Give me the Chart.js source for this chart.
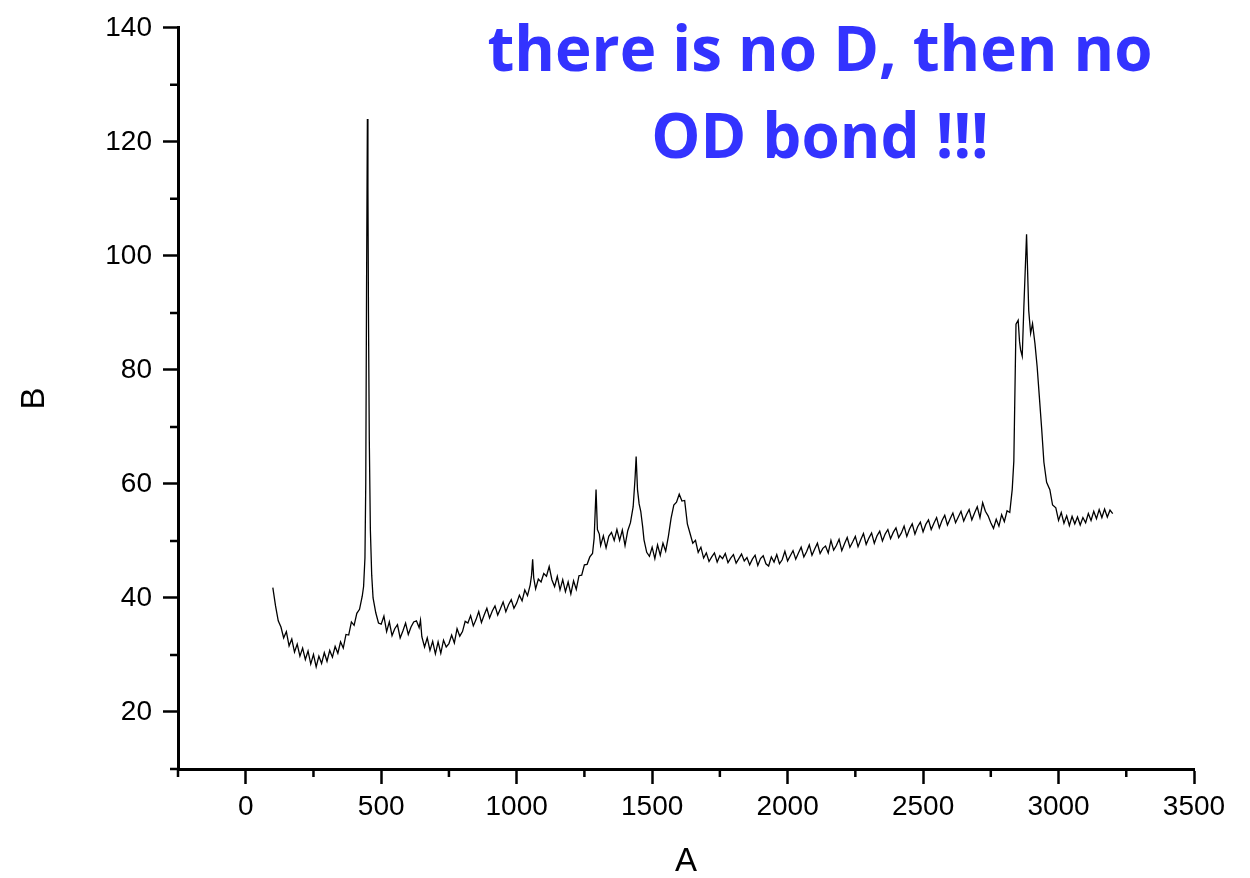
<!DOCTYPE html>
<html>
<head>
<meta charset="utf-8">
<title>Spectrum</title>
<script src="https://cdn.jsdelivr.net/npm/chart.js@4.4.1/dist/chart.umd.min.js"></script>
<style>
    html, body { margin: 0; padding: 0; background: #fff; }
    #chart { display: block; }
</style>
</head>
<body>
<canvas id="chart" width="1250" height="878"></canvas>
<script>
// ========== DATA ==========
const ramanShift = [
    100, 110, 120, 130, 140, 150, 160, 170, 180, 190,
    200, 210, 220, 230, 240, 250, 260, 270, 280, 290,
    300, 310, 320, 330, 340, 350, 360, 370, 380, 390,
    400, 410, 420, 430, 435, 440, 443, 446, 449, 451,
    453, 456, 460, 465, 470, 480, 490, 500, 510, 520,
    530, 540, 550, 560, 570, 580, 590, 600, 610, 620,
    630, 640, 645, 650, 660, 670, 680, 690, 700, 710,
    720, 730, 740, 750, 760, 770, 780, 790, 800, 810,
    820, 830, 840, 850, 860, 870, 880, 890, 900, 910,
    920, 930, 940, 950, 960, 970, 980, 990, 1000, 1010,
    1020, 1030, 1040, 1050, 1055, 1059, 1063, 1070, 1080, 1090,
    1100, 1110, 1120, 1130, 1140, 1150, 1160, 1170, 1180, 1190,
    1200, 1210, 1220, 1230, 1240, 1250, 1260, 1270, 1280, 1286,
    1293, 1298, 1305, 1310, 1320, 1330, 1340, 1350, 1360, 1370,
    1380, 1390, 1400, 1410, 1420, 1430, 1437, 1441, 1446, 1452,
    1458, 1465, 1470, 1480, 1490, 1500, 1510, 1520, 1530, 1540,
    1550, 1560, 1570, 1580, 1590, 1600, 1610, 1620, 1630, 1640,
    1650, 1660, 1670, 1680, 1690, 1700, 1710, 1720, 1730, 1740,
    1750, 1760, 1770, 1780, 1790, 1800, 1810, 1820, 1830, 1840,
    1850, 1860, 1870, 1880, 1890, 1900, 1910, 1920, 1930, 1940,
    1950, 1960, 1970, 1980, 1990, 2000, 2010, 2020, 2030, 2040,
    2050, 2060, 2070, 2080, 2090, 2100, 2110, 2120, 2130, 2140,
    2150, 2160, 2170, 2180, 2190, 2200, 2210, 2220, 2230, 2240,
    2250, 2260, 2270, 2280, 2290, 2300, 2310, 2320, 2330, 2340,
    2350, 2360, 2370, 2380, 2390, 2400, 2410, 2420, 2430, 2440,
    2450, 2460, 2470, 2480, 2490, 2500, 2510, 2520, 2530, 2540,
    2550, 2560, 2570, 2580, 2590, 2600, 2610, 2620, 2630, 2640,
    2650, 2660, 2670, 2680, 2690, 2700, 2710, 2720, 2730, 2740,
    2750, 2760, 2770, 2780, 2790, 2800, 2810, 2820, 2829, 2835,
    2843, 2851, 2856, 2860, 2866, 2872, 2882, 2890, 2897, 2904,
    2913, 2921, 2929, 2938, 2946, 2956, 2968, 2978, 2990, 3000,
    3010, 3020, 3030, 3040, 3050, 3060, 3070, 3080, 3090, 3100,
    3110, 3120, 3130, 3140, 3150, 3160, 3170, 3180, 3190, 3200
];

const intensity = [
    41.8, 38.6, 36.0, 34.9, 33.0, 34.1, 31.6, 32.8, 30.5, 31.9,
    29.8, 31.2, 29.2, 30.7, 28.4, 30.1, 27.9, 29.8, 28.5, 30.4,
    28.9, 30.8, 29.6, 31.5, 30.3, 32.3, 31.2, 33.6, 33.5, 35.8,
    35.2, 37.3, 38.0, 40.3, 42.0, 47.0, 60.0, 95.0, 124.0, 112.0,
    90.0, 68.0, 52.0, 44.0, 40.0, 37.4, 35.6, 35.4, 36.8, 34.1,
    35.8, 33.4, 34.6, 35.3, 33.0, 34.2, 35.6, 33.6, 34.9, 35.8,
    36.0, 34.8, 36.1, 33.2, 31.4, 33.0, 30.8, 32.4, 30.2, 32.3,
    30.3, 32.6, 31.4, 32.0, 33.5, 32.1, 34.6, 33.3, 34.1, 35.9,
    35.6, 36.9, 35.1, 36.2, 37.6, 35.7, 37.0, 38.2, 36.5, 37.7,
    38.6, 37.0, 38.1, 39.3, 37.6, 38.8, 39.7, 38.2, 39.1, 40.5,
    39.5, 41.4, 40.4, 42.3, 44.0, 46.8, 43.5, 41.6, 43.3, 42.8,
    44.3, 43.8, 45.5, 43.2, 42.0, 43.8, 41.4, 43.2, 41.1, 42.8,
    40.7, 43.0, 41.5, 43.9, 44.0, 45.8, 45.9, 47.2, 47.8, 50.5,
    59.0, 52.0, 51.2, 49.2, 50.9, 48.8, 50.8, 51.5, 50.1, 52.0,
    50.1, 51.9, 49.2, 51.8, 53.2, 56.0, 61.0, 64.8, 59.0, 56.5,
    55.2, 52.5, 50.2, 48.0, 47.3, 48.9, 46.9, 49.3, 47.5, 49.6,
    48.2, 50.8, 54.0, 56.3, 56.8, 58.2, 57.0, 57.1, 53.0, 51.3,
    49.6, 50.1, 48.0, 48.9, 47.0, 47.9, 46.4, 47.2, 47.9, 46.3,
    47.4, 46.9, 47.8, 46.2, 47.0, 47.6, 46.1, 46.9, 47.7, 46.5,
    47.1, 45.8, 46.8, 47.5, 45.7, 46.9, 47.4, 46.0, 45.6, 47.2,
    46.3, 47.6, 46.0, 46.7, 48.2, 46.5, 47.4, 48.3, 46.8, 47.9,
    48.9, 47.2, 48.1, 49.3, 47.5, 48.6, 49.6, 47.8, 48.7, 49.1,
    47.9, 50.1, 48.4, 49.2, 50.3, 48.3, 49.5, 50.6, 48.9, 49.8,
    50.8, 49.0, 50.2, 51.3, 49.4, 50.5, 51.4, 49.6, 50.9, 51.7,
    50.0, 51.2, 52.0, 50.4, 51.5, 52.3, 50.6, 51.4, 52.6, 50.8,
    52.1, 53.0, 51.2, 52.5, 53.3, 51.6, 52.9, 53.7, 52.0, 53.1,
    54.1, 52.3, 53.6, 54.5, 52.8, 53.9, 54.9, 53.2, 54.2, 55.2,
    53.5, 54.6, 55.5, 53.7, 54.9, 56.0, 54.1, 56.7, 55.2, 54.4,
    53.2, 52.2, 53.8, 52.6, 54.6, 53.4, 55.3, 55.0, 59.0, 64.0,
    88.0, 88.7, 85.0, 83.5, 82.4, 91.0, 103.8, 90.4, 86.4, 88.1,
    84.6, 80.6, 75.4, 69.5, 63.8, 60.3, 59.0, 56.3, 55.8, 53.6,
    55.0, 53.1, 54.4, 52.7, 54.3, 53.0, 54.2, 52.8, 54.1, 53.2,
    54.8, 53.6, 55.2, 53.9, 55.5, 54.1, 55.6, 54.2, 55.4, 54.8
];

// axis ticks
const xMajorTicks = [0, 500, 1000, 1500, 2000, 2500, 3000, 3500];
const xMinorTicks = [-250, 250, 750, 1250, 1750, 2250, 2750, 3250];
const yMajorTicks = [20, 40, 60, 80, 100, 120, 140];
const yMinorTicks = [10, 30, 50, 70, 90, 110, 130];

const noteLines = ['there is no D, then no', 'OD bond !!!'];
// ===================================================

const minorTicks = {
    id: 'minorTicks',
    afterDraw(chart) {
        const ctx = chart.ctx;
        const xs = chart.scales.x;
        const ys = chart.scales.y;
        ctx.save();
        ctx.strokeStyle = '#000';
        ctx.lineWidth = 2.5;
        ctx.beginPath();
        xMinorTicks.forEach(v => {
            const px = xs.getPixelForValue(v);
            ctx.moveTo(px, xs.top);
            ctx.lineTo(px, xs.top + 8);
        });
        yMinorTicks.forEach(v => {
            const py = ys.getPixelForValue(v);
            ctx.moveTo(ys.right, py);
            ctx.lineTo(ys.right - 8, py);
        });
        ctx.stroke();
        ctx.restore();
    }
};

const noteText = {
    id: 'noteText',
    afterDraw(chart) {
        const ctx = chart.ctx;
        ctx.save();
        ctx.fillStyle = '#3333ff';
        ctx.font = 'bold 63px "Open Sans", Lato, sans-serif';
        ctx.textBaseline = 'alphabetic';
        ctx.textAlign = 'center';
        // fit to the width of the original line (narrow bold font there)
        const w = ctx.measureText(noteLines[0]).width;
        const sx = 665 / w;
        ctx.translate(820, 0);
        ctx.scale(sx, 1);
        ctx.fillText(noteLines[0], 0, 71);
        ctx.fillText(noteLines[1], 0, 158);
        ctx.restore();
    }
};

const points = ramanShift.map((x, i) => ({ x: x, y: intensity[i] }));

const tickFont = { family: '"Liberation Sans", Arial, sans-serif', size: 28 };
const titleFont = { family: '"Liberation Sans", Arial, sans-serif', size: 33, lineHeight: 1 };

new Chart(document.getElementById('chart'), {
    type: 'line',
    data: {
        datasets: [{
            data: points,
            borderColor: '#000',
            borderWidth: 1.3,
            pointRadius: 0,
            tension: 0,
            fill: false
        }]
    },
    options: {
        responsive: false,
        animation: false,
        devicePixelRatio: 1,
        layout: { padding: { top: 22, right: 56, bottom: 0, left: 0 } },
        plugins: {
            legend: { display: false },
            tooltip: { enabled: false }
        },
        scales: {
            x: {
                type: 'linear',
                min: -250,
                max: 3500,
                afterBuildTicks: axis => {
                    axis.ticks = xMajorTicks.map(v => ({ value: v }));
                },
                afterFit: scale => { scale.height = 109; },
                ticks: {
                    color: '#000',
                    font: tickFont,
                    padding: 6,
                    maxRotation: 0,
                    autoSkip: false,
                    callback: v => String(v)
                },
                grid: {
                    drawOnChartArea: false,
                    drawTicks: true,
                    tickLength: 15,
                    tickWidth: 2.5,
                    tickColor: '#000'
                },
                border: { display: true, color: '#000', width: 3 },
                title: {
                    display: true,
                    text: 'A',
                    color: '#000',
                    font: titleFont,
                    padding: { top: 0, bottom: 0 }
                }
            },
            y: {
                min: 10,
                max: 140,
                afterBuildTicks: axis => {
                    axis.ticks = yMajorTicks.map(v => ({ value: v }));
                },
                afterFit: scale => { scale.width = 178; },
                ticks: {
                    color: '#000',
                    font: tickFont,
                    padding: 11,
                    callback: v => String(v)
                },
                grid: {
                    drawOnChartArea: false,
                    drawTicks: true,
                    tickLength: 15,
                    tickWidth: 2.5,
                    tickColor: '#000'
                },
                border: { display: true, color: '#000', width: 3 },
                title: {
                    display: true,
                    text: 'B',
                    color: '#000',
                    font: titleFont,
                    padding: { top: 18, bottom: 0 }
                }
            }
        }
    },
    plugins: [minorTicks, noteText]
});
</script>
</body>
</html>
